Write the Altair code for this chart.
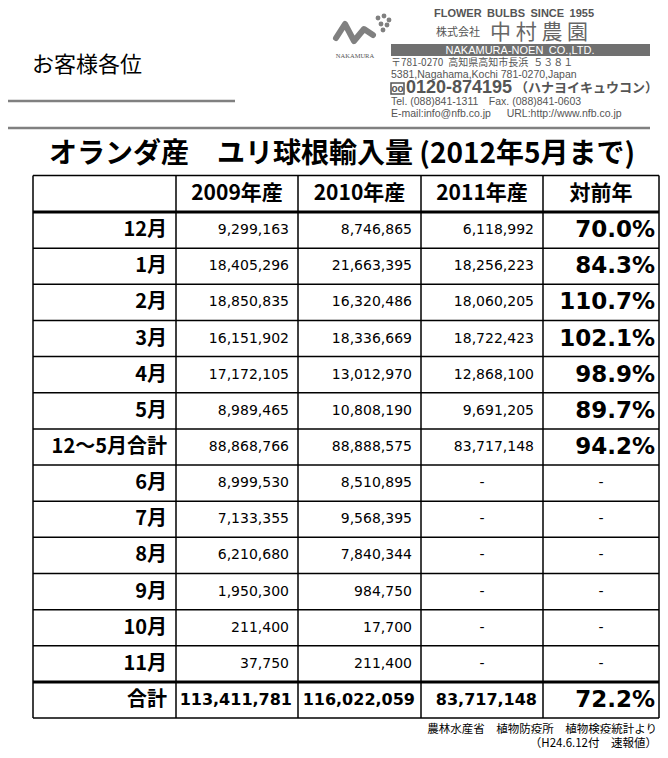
import altair as alt
import pandas as pd

# ---------------- data ----------------
months = ["12月", "1月", "2月", "3月", "4月", "5月", "12～5月合計",
          "6月", "7月", "8月", "9月", "10月", "11月"]
v2009 = [9299163, 18405296, 18850835, 16151902, 17172105, 8989465, 88868766,
         8999530, 7133355, 6210680, 1950300, 211400, 37750]
v2010 = [8746865, 21663395, 16320486, 18336669, 13012970, 10808190, 88888575,
         8510895, 9568395, 7840344, 984750, 17700, 211400]
v2011 = [6118992, 18256223, 18060205, 18722423, 12868100, 9691205, 83717148,
         None, None, None, None, None, None]
yoy = [70.0, 84.3, 110.7, 102.1, 98.9, 89.7, 94.2,
       None, None, None, None, None, None]
headers = ["2009年産", "2010年産", "2011年産", "対前年"]
total_label = "合計"
totals = [113411781, 116022059, 83717148]
total_yoy = 72.2

title = "オランダ産　ユリ球根輸入量 (2012年5月まで)"
footer = ["農林水産省　植物防疫所　植物検疫統計より", "（H24.6.12付　速報値）"]

SP = "\u2002"  # en space (not collapsed by SVG)

# ---------------- layout ----------------
FONT = "Noto Sans CJK JP"
col_edges = [33, 176, 298, 421, 543, 659]
top_edge = 175.5
head_bottom = 212
row_h = 36.15
n_rows = len(months)
total_top = head_bottom + row_h * n_rows
bottom_edge = total_top + row_h
pad = 9

def rc(i):
    return head_bottom + row_h * (i + 0.5)

X = alt.X("x:Q", scale=alt.Scale(domain=[8, 660]), axis=None)
Y = alt.Y("y:Q", scale=alt.Scale(domain=[750, 8]), axis=None)

# grid lines
lines = []
for xe in col_edges:
    lines.append(dict(x=xe, x2=xe, y=top_edge, y2=bottom_edge, w=1.5, c="black"))
hy = [top_edge] + [head_bottom + row_h * k for k in range(n_rows + 1)] + [bottom_edge]
for yv in hy:
    w = 3 if (yv == head_bottom or abs(yv - total_top) < 0.01) else 1.5
    lines.append(dict(x=col_edges[0], x2=col_edges[-1], y=yv, y2=yv, w=w, c="black"))
# top decorative lines
lines.append(dict(x=8, x2=235, y=101, y2=101, w=2.5, c="#808080"))
lines.append(dict(x=8, x2=650, y=128, y2=128, w=2.5, c="#808080"))
ldf = pd.DataFrame(lines)
grid = alt.Chart(ldf).mark_rule().encode(
    x=X, x2="x2:Q", y=Y, y2="y2:Q",
    strokeWidth=alt.StrokeWidth("w:Q", scale=None),
    color=alt.Color("c:N", scale=None))

def tlayer(df, size, weight="normal", align="left", font=FONT, color="black", **kw):
    return alt.Chart(pd.DataFrame(df)).mark_text(
        align=align, baseline="middle", fontSize=size, fontWeight=weight,
        font=font, color=color, **kw).encode(x=X, y=Y, text="t:N")

layers = [grid]

# title
layers.append(tlayer([dict(x=342, y=155, t=title)], 28, "bold", "center"))

# header cells
hdr = [dict(x=(col_edges[i + 1] + col_edges[i + 2]) / 2, y=(top_edge + head_bottom) / 2, t=h)
       for i, h in enumerate(headers)]
layers.append(tlayer(hdr, 21, "bold", "center"))

# month labels
ml = [dict(x=col_edges[1] - pad, y=rc(i), t=m) for i, m in enumerate(months)]
ml.append(dict(x=col_edges[1] - pad, y=total_top + row_h / 2, t=total_label))
layers.append(tlayer(ml, 20, "bold", "right"))

# numbers
nums = []
dashes = []
for i in range(n_rows):
    for c, arr in enumerate([v2009, v2010, v2011]):
        v = arr[i]
        if v is None:
            dashes.append(dict(x=(col_edges[c + 1] + col_edges[c + 2]) / 2, y=rc(i), t="-"))
        else:
            nums.append(dict(x=col_edges[c + 2] - pad, y=rc(i), t=f"{v:,}"))
    if yoy[i] is None:
        dashes.append(dict(x=(col_edges[4] + col_edges[5]) / 2, y=rc(i), t="-"))
layers.append(tlayer(nums, 14, "normal", "right", font="DejaVu Sans"))
layers.append(tlayer(dashes, 14, "normal", "center", font="DejaVu Sans"))

pct = [dict(x=col_edges[5] - 4, y=rc(i), t=f"{v:.1f}%") for i, v in enumerate(yoy) if v is not None]
pct.append(dict(x=col_edges[5] - 4, y=total_top + row_h / 2, t=f"{total_yoy:.1f}%"))
layers.append(tlayer(pct, 23, "bold", "right", font="DejaVu Sans"))

tot = [dict(x=col_edges[c + 2] - 6, y=total_top + row_h / 2, t=f"{v:,}") for c, v in enumerate(totals)]
layers.append(tlayer(tot, 16, "bold", "right", font="DejaVu Sans"))

# footer
layers.append(tlayer([dict(x=657, y=730, t=footer[0]), dict(x=657, y=744, t=footer[1])],
                     11.5, "normal", "right"))

# top-left greeting
layers.append(tlayer([dict(x=32, y=65, t="お客様各位")], 22, "normal", "left"))

# company block
G = "#555555"
layers.append(tlayer([dict(x=514, y=13.5, t=f"FLOWER{SP}BULBS{SP}SINCE{SP}1955")], 11, "bold",
                     "center", font="Liberation Sans", color=G))
layers.append(tlayer([dict(x=436, y=32.5, t="株式会社")], 11, "normal", "left", color=G))
layers.append(tlayer([dict(x=490, y=32.5, t="中 村 農 園")], 21, "normal", "left",
                     color="#666666"))
bar = pd.DataFrame([dict(x=391, x2=650, y=44, y2=56)])
layers.append(alt.Chart(bar).mark_rect(color="#707070").encode(x=X, x2="x2:Q", y=Y, y2="y2:Q"))
layers.append(tlayer([dict(x=520, y=50.5, t=f"NAKAMURA-NOEN{SP}CO.,LTD.")], 11, "normal",
                     "center", font="Liberation Sans", color="white"))
layers.append(tlayer([dict(x=391, y=62.5, t=f"〒781-0270{SP}高知県高知市長浜{SP}５３８１")],
                     10, "normal", "left", color=G))
info = [dict(x=391, y=75, t="5381,Nagahama,Kochi 781-0270,Japan"),
        dict(x=391, y=102, t=f"Tel. (088)841-1311{SP}{SP}Fax. (088)841-0603"),
        dict(x=391, y=113.5, t=f"E-mail:info@nfb.co.jp{SP}{SP}{SP}URL:http://www.nfb.co.jp")]
layers.append(tlayer(info, 10.5, "normal", "left", font="Liberation Sans", color=G))
layers.append(tlayer([dict(x=406, y=88, t="0120-874195")], 18, "bold", "left",
                     font="Liberation Sans", color=G))
layers.append(tlayer([dict(x=515, y=88, t="（ハナヨイキュウコン）")], 13, "bold", "left",
                     color=G))
icon = pd.DataFrame([dict(x=391, x2=404, y=83, y2=94)])
layers.append(alt.Chart(icon).mark_rect(fill="white", stroke=G, strokeWidth=1.5).encode(
    x=X, x2="x2:Q", y=Y, y2="y2:Q"))
layers.append(tlayer([dict(x=397.5, y=88.5, t="oo")], 10, "bold", "center",
                     font="Liberation Sans", color=G))
# logo (approximation)
wave = pd.DataFrame([dict(x=x, y=y, o=k) for k, (x, y) in
                     enumerate([(336, 38), (345, 24), (354, 41), (364, 29), (373, 35)])])
layers.append(alt.Chart(wave).mark_line(color="#808080", strokeWidth=6, strokeJoin="round",
                                        strokeCap="round").encode(x=X, y=Y, order="o:Q"))
dots = pd.DataFrame([dict(x=x, y=y) for x, y in
                     [(378, 18), (384, 16), (389, 20), (381, 24), (387, 25), (383, 30)]])
layers.append(alt.Chart(dots).mark_circle(size=24, color="#808080", opacity=1).encode(x=X, y=Y))
layers.append(tlayer([dict(x=355, y=56, t="NAKAMURA")], 6.5, "normal", "center",
                     font="Liberation Serif", color="#555555"))

chart = alt.layer(*layers).properties(
    width=652, height=742, padding=0, autosize="none"
).configure_view(stroke=None)

chart.save("out.html", embed_options={"renderer": "svg", "actions": False})
